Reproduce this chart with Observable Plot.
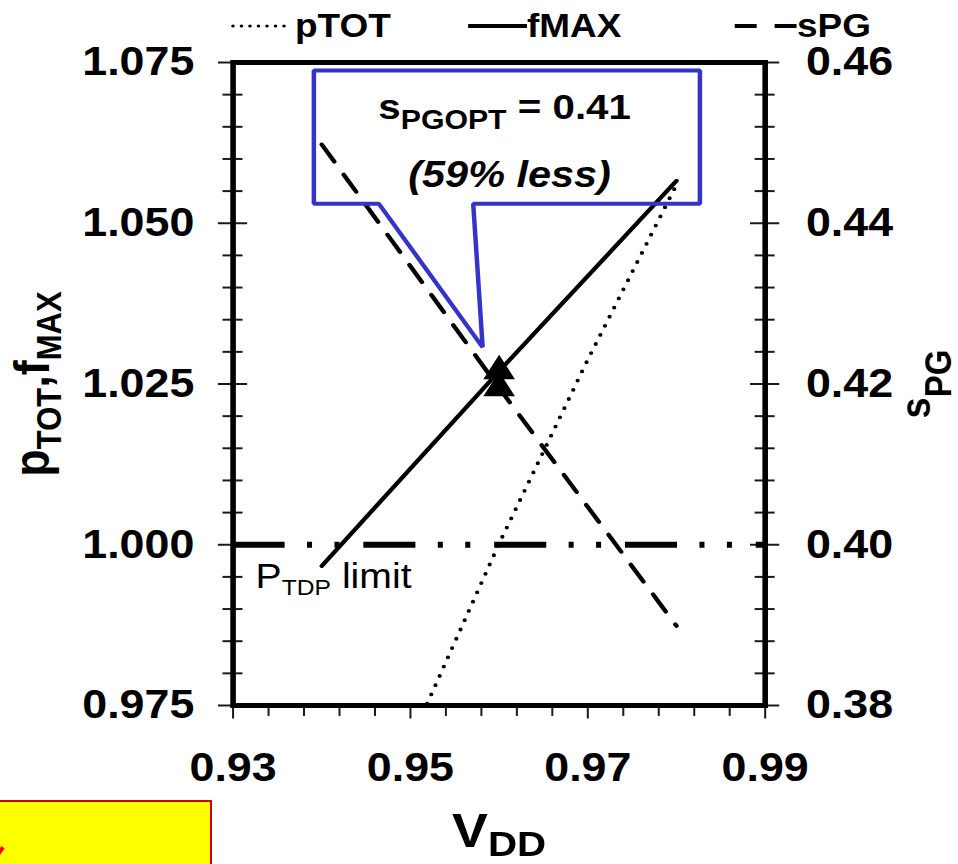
<!DOCTYPE html>
<html><head><meta charset="utf-8">
<script src="https://cdn.jsdelivr.net/npm/d3@7"></script>
<script src="https://cdn.jsdelivr.net/npm/@observablehq/plot@0.6"></script>
<style>
html,body{margin:0;padding:0;background:#fff;overflow:hidden;}
#page{position:relative;width:958px;height:864px;overflow:hidden;background:#fff;}
#stretch{position:absolute;left:0;top:0;width:855px;height:864px;transform:scaleX(1.12);transform-origin:0 0;}
#chart svg{display:block;}
#legend{position:absolute;left:0;top:0;overflow:visible;}
#note{position:absolute;left:-3px;top:800px;width:215px;height:72px;background:#ffff00;border:2px solid #cc0000;box-sizing:border-box;overflow:hidden;}
#note i{position:absolute;left:-2px;top:44px;width:4px;height:14px;background:#ff0000;transform:rotate(35deg);}
</style></head>
<body>
<div id="page">
  <div id="stretch"><div id="chart"></div><svg id="legend" width="855" height="60"></svg></div>
  <div id="note"><i></i></div>
</div>
<script>
// ---- data ----
const vdd   = [0.94, 0.96, 0.98];
const fMAX  = [0.9967, 1.0270, 1.0566];
const sPG   = [0.4498, 0.4195, 0.3899];
const vddP  = [0.95, 0.96, 0.97, 0.98];
const pTOT  = [0.9695, 1.0002, 1.0288, 1.0560];
const pTDPLimit = [1.000];
const optIndex = 1; // V_DD = 0.96, marked with triangles
const xTickLabels = [0.93, 0.95, 0.97, 0.99];
const yLeftTickLabels = [0.975, 1.000, 1.025, 1.050, 1.075];
const yRightTickLabels = [0.38, 0.40, 0.42, 0.44, 0.46];
const seriesNames = ["pTOT", "fMAX", "sPG"];
const calloutLines = ["sPGOPT = 0.41", "(59% less)"];
const limitLabel = "PTDP limit";

// ---- scales ----
const xDomain = [0.93, 0.99];
const yDomain = [0.975, 1.075];
const sDomain = [0.38, 0.46];
const toLeft = s => yDomain[0] + (s - sDomain[0]) * (yDomain[1] - yDomain[0]) / (sDomain[1] - sDomain[0]);

const xTicks = d3.range(16).map(i => +(0.93 + i * 0.004).toFixed(3));
const yTicks = d3.range(21).map(i => +(0.975 + i * 0.005).toFixed(3));
const isMajorY = v => yLeftTickLabels.some(t => Math.abs(t - v) < 1e-6);
const isMajorX = v => xTickLabels.some(t => Math.abs(t - v) < 1e-6);

const fData = vdd.map((v, i) => ({v, val: fMAX[i]}));
const sData = vdd.map((v, i) => ({v, val: toLeft(sPG[i])}));
const pData = vddP.map((v, i) => ({v, val: pTOT[i]}));
const markers = [{v: vdd[optIndex], val: fMAX[optIndex]}, {v: vdd[optIndex], val: toLeft(sPG[optIndex])}];

// callout annotation outline (data units)
const callout = [
  {v: 0.93911, val: 1.07376}, {v: 0.98264, val: 1.07376}, {v: 0.98264, val: 1.05303},
  {v: 0.95708, val: 1.05303}, {v: 0.95814, val: 1.03072}, {v: 0.94644, val: 1.05303},
  {v: 0.93911, val: 1.05303}
];
const calloutText = [{v: 0.96062, val: 1.06629, label: calloutLines[0]}];
const calloutText2 = [{v: 0.96118, val: 1.05556, label: calloutLines[1]}];
const limitText = [{v: 0.93254, val: 0.99320, label: limitLabel}];

const FONT = '"Liberation Sans", Arial, Helvetica, sans-serif';
const tickColor = "#1a1a1a";

const chart = Plot.plot({
  width: 855, height: 864,
  marginTop: 62, marginBottom: 159, marginLeft: 207.6, marginRight: 172.3,
  x: {domain: xDomain, axis: null},
  y: {domain: yDomain, axis: null},
  style: {fontFamily: FONT, background: "white", color: "black", overflow: "visible"},
  marks: [
    // left axis ticks (crossing)
    Plot.ruleY(yTicks, {y: d => d, x1: d => 0.93 - (isMajorY(d) ? 0.00165 : 0.00113), x2: d => 0.93 + (isMajorY(d) ? 0.00165 : 0.00113), stroke: tickColor, strokeWidth: 2}),
    // right axis ticks (crossing)
    Plot.ruleY(yTicks, {y: d => d, x1: d => 0.99 - (isMajorY(d) ? 0.00165 : 0.00113), x2: d => 0.99 + (isMajorY(d) ? 0.00165 : 0.00113), stroke: tickColor, strokeWidth: 2}),
    // bottom ticks (outward)
    Plot.ruleX(xTicks, {x: d => d, y1: 0.975, y2: d => 0.975 - (isMajorX(d) ? 0.0021 : 0.0017), stroke: tickColor, strokeWidth: 1.8}),
    // P_TDP limit
    Plot.ruleY(pTDPLimit, {y: d => d, stroke: "black", strokeWidth: 6, strokeDasharray: "46.5,20,4.5,20,4.5,21.3"}),
    // series
    Plot.line(pData, {x: "v", y: "val", stroke: "black", strokeWidth: 3.8, strokeDasharray: "0,10", strokeLinecap: "round", clip: true}),
    Plot.line(fData, {x: "v", y: "val", stroke: "black", strokeWidth: 4}),
    Plot.line(sData, {x: "v", y: "val", stroke: "black", strokeWidth: 4, strokeDasharray: "20.5,15.4"}),
    Plot.dot(markers, {x: "v", y: "val", symbol: "triangle", r: 10.5, fill: "black", stroke: "none"}),
    // callout
    Plot.line(callout, {x: "v", y: "val", curve: "linear-closed", stroke: "#3434c8", strokeWidth: 4, strokeLinejoin: "miter", fill: "none"}),
    Plot.text(calloutText, {x: "v", y: "val", text: "label", lineAnchor: "bottom", textAnchor: "middle", fontSize: 36, fontWeight: "bold"}),
    Plot.text(calloutText2, {x: "v", y: "val", text: "label", lineAnchor: "bottom", textAnchor: "middle", fontSize: 37, fontWeight: "bold", fontStyle: "italic"}),
    Plot.text(limitText, {x: "v", y: "val", text: "label", lineAnchor: "bottom", textAnchor: "start", fontSize: 35}),
    // frame
    Plot.frame({stroke: "black", strokeWidth: 5}),
    // tick labels
    Plot.text(yLeftTickLabels, {y: d => d, text: d => d3.format(".3f")(d), frameAnchor: "left", textAnchor: "end", dx: -34.6, fontSize: 40, fontWeight: "bold"}),
    Plot.text(yRightTickLabels, {y: d => toLeft(d), text: d => d3.format(".2f")(d), frameAnchor: "right", textAnchor: "start", dx: 36.4, fontSize: 40, fontWeight: "bold"}),
    Plot.text(xTickLabels, {x: d => d, text: d => d3.format(".2f")(d), frameAnchor: "bottom", lineAnchor: "bottom", dy: 75, fontSize: 40, fontWeight: "bold"}),
    // axis titles
    Plot.text(["pTOT,fMAX"], {text: d => d, frameAnchor: "left", rotate: -90, textAnchor: "middle", lineAnchor: "bottom", dx: -164, fontSize: 45, fontWeight: "bold"}),
    Plot.text(["sPG"], {text: d => d, frameAnchor: "right", rotate: -90, textAnchor: "middle", lineAnchor: "bottom", dx: 147.7, fontSize: 38, fontWeight: "bold"}),
    Plot.text(["VDD"], {text: d => d, frameAnchor: "bottom", textAnchor: "middle", lineAnchor: "bottom", dy: 141, fontSize: 48, fontWeight: "bold"})
  ]
});
document.getElementById("chart").appendChild(chart);

// rich text: subscripts
const rich = {
  "pTOT,fMAX": {sub: 31, shift: 10, parts: [["p"], ["TOT", 1], [","], ["f"], ["MAX", 1]]},
  "sPG": {sub: 33, shift: 18, parts: [["s"], ["PG", 1]]},
  "VDD": {sub: 36, shift: 9, parts: [["V"], ["DD", 1]]},
  "PTDP limit": {sub: 22, shift: 7, parts: [["P"], ["TDP", 1], [" limit"]]},
  "sPGOPT = 0.41": {sub: 27, shift: 10, parts: [["s"], ["PGOPT", 1], [" = 0.41"]]}
};
d3.select(chart).selectAll("text").each(function () {
  const spec = rich[this.textContent];
  if (!spec) return;
  const el = d3.select(this);
  el.text(null);
  let cur = 0;
  for (const [t, isSub] of spec.parts) {
    const ts = el.append("tspan").text(t);
    if (isSub) { ts.attr("font-size", spec.sub).attr("dy", spec.shift - cur); cur = spec.shift; }
    else if (cur) { ts.attr("dy", -cur); cur = 0; }
  }
});

// legend (above the plot)
const lg = d3.select("#legend");
const items = [
  {name: seriesNames[0], x1: 208, x2: 259, tx: 263.4, dash: "0,7.6", w: 3.2, cap: "round"},
  {name: seriesNames[1], x1: 418, x2: 470.5, tx: 470.5, dash: null, w: 4, cap: "butt"},
  {name: seriesNames[2], x1: 656, x2: 711.6, tx: 711.6, dash: "19.6,16", w: 4, cap: "butt"}
];
for (const it of items) {
  lg.append("line").attr("x1", it.x1).attr("x2", it.x2).attr("y1", 26).attr("y2", 26)
    .attr("stroke", "black").attr("stroke-width", it.w).attr("stroke-linecap", it.cap)
    .attr("stroke-dasharray", it.dash);
  lg.append("text").attr("x", it.tx).attr("y", 37).text(it.name)
    .attr("font-family", FONT).attr("font-weight", "bold").attr("font-size", 33);
}
</script>
</body></html>
